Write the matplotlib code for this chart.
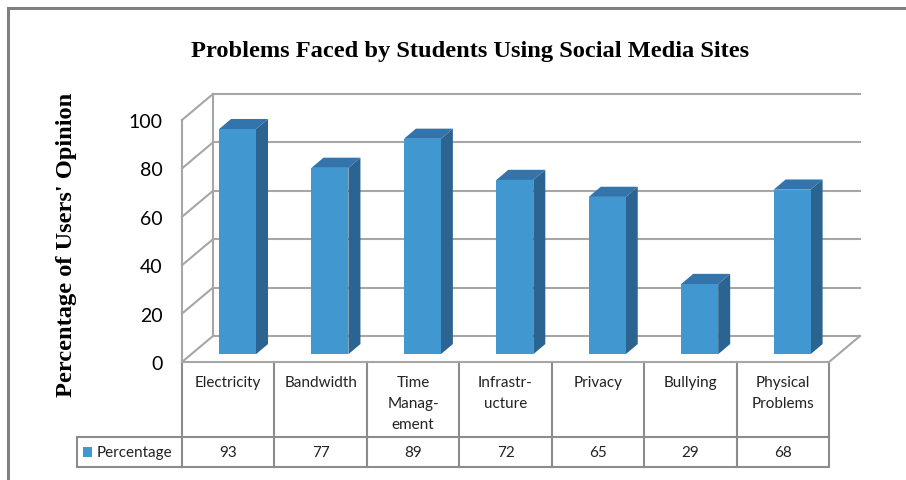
import matplotlib
matplotlib.use("Agg")
import matplotlib.pyplot as plt
from matplotlib.patches import Rectangle, Polygon
from matplotlib.transforms import blended_transform_factory

# data
categories = ["Electricity", "Bandwidth", "Time\nManag-\nement", "Infrastr-\nucture",
              "Privacy", "Bullying", "Physical\nProblems"]
values = [93, 77, 89, 72, 65, 29, 68]
yticks = [0, 20, 40, 60, 80, 100]
series_name = "Percentage"

W, H = 906, 481
fig = plt.figure(figsize=(W / 100, H / 100), dpi=100)

# overlay axes in pixel coords for frame / table
bg = fig.add_axes([0, 0, 1, 1])
bg.set_xlim(0, W)
bg.set_ylim(H, 0)
bg.axis("off")

# main axes: x in category units, y in value units (front plane)
DX, DY = 0.335, 10.74          # depth of the 3d box
ax = fig.add_axes([182 / W, (H - 363) / H, 678 / W, 268 / H], zorder=2)
ax.set_xlim(-0.5, 6.5 + DX)
ax.set_ylim(0, 100 + DY)
ax.patch.set_alpha(0)
for s in ax.spines.values():
    s.set_visible(False)
ax.set_xticks([])
ax.set_yticks(yticks)
ax.set_yticklabels([str(t) for t in yticks], fontfamily="Lato", fontsize=14)
ax.tick_params(axis="y", length=0, pad=14)

grid_c = "#a6a6a6"
lw = 1.5
x0, x1 = -0.5, len(categories) - 0.5
# walls and grid
for t in yticks:
    ax.plot([x0 + DX, x1 + DX], [t + DY, t + DY], color=grid_c, lw=lw, clip_on=False, zorder=1)
    ax.plot([x0, x0 + DX], [t, t + DY], color=grid_c, lw=lw, clip_on=False, zorder=1)
ax.plot([x0, x0], [0, 100], color=grid_c, lw=lw, clip_on=False, zorder=1)
ax.plot([x0 + DX, x0 + DX], [DY, 100 + DY], color=grid_c, lw=lw, clip_on=False, zorder=1)
ax.plot([x1, x1 + DX], [0, DY], color=grid_c, lw=lw, clip_on=False, zorder=1)

# 3d bars
front_c, side_c, top_c = "#4198d0", "#2c6491", "#3274ab"
f = 0.3
ox, oy = f * DX, f * DY
bw = 0.4
sx, sy = 0.13, 4.2
for i, v in enumerate(values):
    xl = i - bw / 2 + ox
    xr = xl + bw
    ax.add_patch(Rectangle((xl, oy), bw, v, facecolor=front_c, edgecolor="none", zorder=4))
    ax.add_patch(Polygon([(xr, oy), (xr + sx, oy + sy), (xr + sx, oy + sy + v), (xr, oy + v)],
                         closed=True, facecolor=side_c, edgecolor="none", zorder=3))
    ax.add_patch(Polygon([(xl, oy + v), (xr, oy + v), (xr + sx, oy + sy + v), (xl + sx, oy + sy + v)],
                         closed=True, facecolor=top_c, edgecolor="none", zorder=3))

# data table (x in categories, y in pixels)
tr = blended_transform_factory(ax.transData, bg.transData)
tab_c = "#8c8c8c"
top, mid, bot = 363, 438, 468
n = len(categories)
for k in range(n + 1):
    bg.plot([k - 0.5, k - 0.5], [top, bot], color=tab_c, lw=lw, transform=tr)
bg.plot([x0, x1], [top, top], color=grid_c, lw=lw, transform=tr)
bg.plot([x0, x1], [mid, mid], color=tab_c, lw=lw, transform=tr)
bg.plot([77, 182], [mid, mid], color=tab_c, lw=lw)
bg.plot([77, 182], [bot, bot], color=tab_c, lw=lw)
bg.plot([x0, x1], [bot, bot], color=tab_c, lw=lw, transform=tr)
bg.plot([77, 77], [mid, bot], color=tab_c, lw=lw)
for i, (c, v) in enumerate(zip(categories, values)):
    bg.text(i, 376, c, transform=tr, ha="center", va="top", fontfamily="Lato",
            fontsize=11, linespacing=1.62, color="#222222")
    bg.text(i, (mid + bot) / 2, str(v), transform=tr, ha="center", va="center",
            fontfamily="Lato", fontsize=11, color="#222222")
bg.add_patch(Rectangle((83, 448), 9, 10, facecolor=front_c, edgecolor="none"))
bg.text(97, (mid + bot) / 2, series_name, ha="left", va="center", fontfamily="Lato",
        fontsize=11, color="#222222")

# titles
bg.text(470, 52, "Problems Faced by Students Using Social Media Sites", ha="center",
        va="center", fontfamily="Liberation Serif", fontweight="bold", fontsize=17.6)
bg.text(67, 245, "Percentage of Users' Opinion", ha="center", va="center", rotation=90,
        fontfamily="Liberation Serif", fontweight="bold", fontsize=17.6)

# outer frame
bg.plot([8, W], [9, 9], color="#808080", lw=2.2)
bg.plot([8, 8], [9, H], color="#808080", lw=2.2)

fig.savefig("out.png", dpi=100)
